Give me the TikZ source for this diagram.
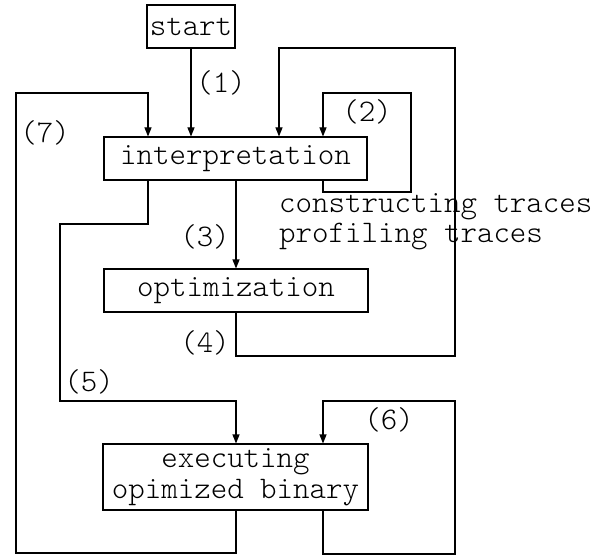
\documentclass[tikz,border=0pt]{standalone}
\usepackage{fontspec}
\setmonofont{Latin Modern Mono Light}
\usetikzlibrary{arrows.meta}
\tikzset{
  box/.style={draw, line width=1.1pt, inner sep=0pt, align=center, font=\ttfamily\fontsize{31.4}{31.4}\selectfont},
  lbl/.style={inner sep=0pt, font=\ttfamily\fontsize{31.4}{31.4}\selectfont},
  ln/.style={line width=1.1pt},
  arr/.style={line width=1.1pt, -{Triangle[length=9pt,width=7pt]}}
}
\begin{document}
\begin{tikzpicture}[x=1pt,y=-1pt]
\useasboundingbox (0,0) rectangle (602,556);
\node[box, minimum width=88pt, minimum height=43pt] (start) at (191,26.5) {start};
\node[box, minimum width=263pt, minimum height=43pt] (interp) at (235.5,158.5) {interpretation};
\node[box, minimum width=264pt, minimum height=43pt] (opt) at (236,290.5) {optimization};
\node[box, minimum width=265pt, minimum height=66pt, font=\ttfamily\fontsize{31.4}{30.5}\selectfont] (exec) at (235.5,477) {executing\\opimized binary};
% coordinates for vertical lines
\coordinate (xa) at (148,0);
\coordinate (xb) at (191,0);
\coordinate (xc) at (236,0);
\coordinate (xd) at (279,0);
\coordinate (xe) at (323,0);
% (1)
\draw[arr] (start.south) -- (interp.north -| start.south);
% (2)
\draw[arr] (interp.south -| xe) |- (411,192) |- (323,93) -- (interp.north -| xe);
% (3)
\draw[arr] (interp.south -| xc) -- (opt.north -| xc);
% (4)
\draw[arr] (opt.south -| xc) |- (455,356) |- (279,48) -- (interp.north -| xd);
% (5)
\draw[arr] (interp.south -| xa) |- (60,224) |- (236,401) -- (exec.north -| xc);
% (6)
\draw[arr] (exec.south -| xe) |- (455,554) |- (323,401) -- (exec.north -| xe);
% (7)
\draw[arr] (exec.south -| xc) |- (16,553) |- (148,93) -- (interp.north -| xa);
% labels
\node[lbl] (l1) at (221,83) {(1)};
\node[lbl] (l2) at (367,112) {(2)};
\node[lbl] (l3) at (205,237) {(3)};
\node[lbl] (l4) at (205,343) {(4)};
\node[lbl] (l5) at (89,382) {(5)};
\node[lbl] (l6) at (389,420) {(6)};
\node[lbl] (l7) at (45,133) {(7)};
\node[lbl, anchor=base west] (ct) at (279,212) {constructing traces};
\node[lbl, anchor=base west] (pt) at (279,242) {profiling traces};
\end{tikzpicture}
\end{document}
